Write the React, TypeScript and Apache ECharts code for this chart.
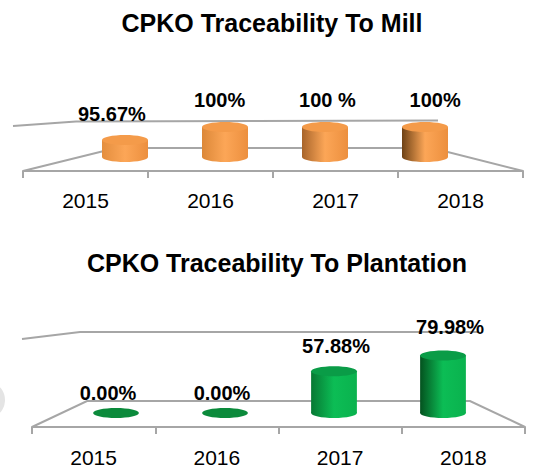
import React, { useEffect, useRef } from 'react';
import * as echarts from 'echarts';

// ---- data ----
const years = ['2015', '2016', '2017', '2018'];
const millValues = [95.67, 100, 100, 100];
const millLabels = ['95.67%', '100%', '100 %', '100%'];
const plantationValues = [0, 0, 57.88, 79.98];
const plantationLabels = plantationValues.map((v) => v.toFixed(2) + '%');
const millTitle = 'CPKO Traceability To Mill';
const plantationTitle = 'CPKO Traceability To Plantation';

// ---- styles ----
const FONT = '"Liberation Sans", Arial, sans-serif';
const GREY = '#A6A6A6';
const orangeLeft = ['#E48E3E', '#DC8838', '#A8652B', '#6E4216'];
const orangeMid = '#FCA657';
const orangeRight = '#EC8F3E';
const orangeTop = '#F49B4A';
const greenLeft = ['#087A35', '#087A35', '#077833', '#04521F'];
const greenMid = '#0CBD55';
const greenRight = '#0AB24E';
const greenTop = '#0A9C47';
const greenFlat = '#0B8A3B';

function cylinder(
  baseValue: number,
  ratio: number,
  leftShades: string[],
  mid: string,
  right: string,
  topColor: string,
  flatColor: string
) {
  return (params: any, api: any) => {
    const i = api.value(0);
    const v = api.value(1);
    const top = api.coord([i, v]);
    const base = api.coord([i, baseValue]);
    const w = api.size([1, 0])[0] * ratio;
    const rx = w / 2;
    const ry = 5;
    const cx = top[0];
    if (v <= baseValue) {
      return {
        type: 'ellipse',
        shape: { cx, cy: base[1], rx, ry },
        style: { fill: flatColor },
      };
    }
    const grad = new echarts.graphic.LinearGradient(0, 0, 1, 0, [
      { offset: 0, color: leftShades[i] },
      { offset: 0.5, color: mid },
      { offset: 1, color: right },
    ]);
    return {
      type: 'group',
      children: [
        { type: 'ellipse', shape: { cx, cy: base[1], rx, ry }, style: { fill: grad } },
        {
          type: 'rect',
          shape: { x: cx - rx, y: top[1], width: w, height: base[1] - top[1] },
          style: { fill: grad },
        },
        { type: 'ellipse', shape: { cx, cy: top[1], rx, ry }, style: { fill: topColor } },
      ],
    };
  };
}

function labelRenderer(labels: string[]) {
  return (params: any, api: any) => {
    const i = api.value(0);
    const p = api.coord([i, api.value(1)]);
    return {
      type: 'text',
      style: {
        text: labels[i],
        x: p[0],
        y: p[1],
        align: 'center',
        verticalAlign: 'middle',
        fontSize: 20,
        fontWeight: 'bold',
        fontFamily: FONT,
        fill: '#000',
      },
    };
  };
}

function catAxis(gridIndex: number, show: boolean, margin = 19) {
  return {
    type: 'category',
    gridIndex,
    data: years,
    show,
    boundaryGap: true,
    axisLine: { show, lineStyle: { color: GREY, width: 2 } },
    axisTick: { show, length: 7, lineStyle: { color: GREY, width: 2 } },
    axisLabel: { show, fontSize: 21, color: '#000', fontFamily: FONT, margin },
    splitLine: { show: false },
  };
}

function valAxis(gridIndex: number, min: number, max: number) {
  return { type: 'value', gridIndex, min, max, show: false, splitLine: { show: false } };
}

const line = (points: number[][]) => ({
  type: 'polyline',
  shape: { points },
  style: { stroke: GREY, lineWidth: 2, fill: 'none' },
  z: 0,
});

export default function App() {
  const ref = useRef<HTMLDivElement>(null);
  useEffect(() => {
    document.body.style.margin = '0';
    const chart = echarts.init(ref.current!, undefined, { renderer: 'svg' });
    chart.setOption({
      animation: false,
      backgroundColor: '#fff',
      grid: [
        { left: 75, top: 127, width: 400, height: 30 },
        { left: 23, top: 141, width: 500, height: 30 },
        { left: 58, top: 100, width: 431, height: 32.3 },
        { left: 61.5, top: 341, width: 436, height: 72 },
        { left: 32, top: 397, width: 493, height: 30 },
        { left: 51, top: 311, width: 456, height: 82 },
      ],
      xAxis: [
        catAxis(0, false),
        catAxis(1, true, 19),
        catAxis(2, false),
        catAxis(3, false),
        catAxis(4, true, 20),
        catAxis(5, false),
      ],
      yAxis: [
        valAxis(0, 90, 100),
        valAxis(1, 0, 1),
        valAxis(2, 90, 100),
        valAxis(3, 0, 100),
        valAxis(4, 0, 1),
        valAxis(5, 0, 100),
      ],
      graphic: [
        {
          type: 'circle',
          shape: { cx: -14, cy: 400, r: 19 },
          style: { fill: '#E4E4E4' },
          z: 0,
        },
        line([[13, 126], [76, 121.5], [438, 120.5]]),
        line([[23, 171], [116, 148], [432, 148], [523, 171]]),
        line([[22, 339], [80, 332], [479, 332]]),
        line([[32, 427], [87, 401], [470, 401], [525, 427]]),
        {
          type: 'text',
          style: {
            text: millTitle,
            x: 272,
            y: 23,
            align: 'center',
            verticalAlign: 'middle',
            fontSize: 25,
            fontWeight: 'bold',
            fontFamily: FONT,
            fill: '#000',
          },
          z: 5,
        },
        {
          type: 'text',
          style: {
            text: plantationTitle,
            x: 277,
            y: 263,
            align: 'center',
            verticalAlign: 'middle',
            fontSize: 25,
            fontWeight: 'bold',
            fontFamily: FONT,
            fill: '#000',
          },
          z: 5,
        },
      ],
      series: [
        {
          type: 'custom',
          xAxisIndex: 0,
          yAxisIndex: 0,
          renderItem: cylinder(90, 0.46, orangeLeft, orangeMid, orangeRight, orangeTop, orangeTop),
          data: millValues.map((v, i) => [i, v]),
          z: 3,
        },
        {
          type: 'custom',
          xAxisIndex: 2,
          yAxisIndex: 2,
          renderItem: labelRenderer(millLabels),
          data: millValues.map((v, i) => [i, v]),
          z: 4,
        },
        {
          type: 'custom',
          xAxisIndex: 3,
          yAxisIndex: 3,
          renderItem: cylinder(0, 0.42, greenLeft, greenMid, greenRight, greenTop, greenFlat),
          data: plantationValues.map((v, i) => [i, v]),
          z: 3,
        },
        {
          type: 'custom',
          xAxisIndex: 5,
          yAxisIndex: 5,
          renderItem: labelRenderer(plantationLabels),
          data: plantationValues.map((v, i) => [i, v]),
          z: 4,
        },
      ],
    });
    return () => chart.dispose();
  }, []);
  return <div ref={ref} style={{ width: 542, height: 476 }} />;
}
